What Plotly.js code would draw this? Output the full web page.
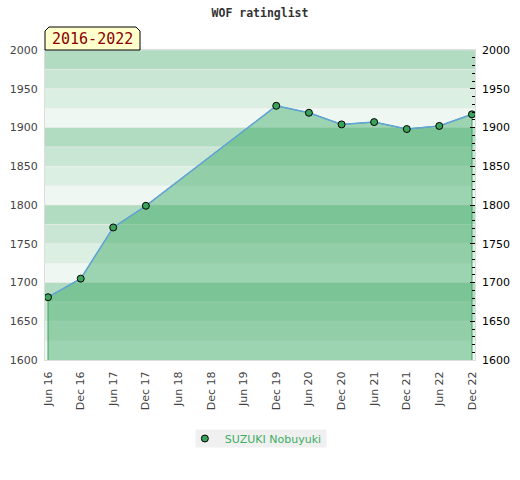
<!DOCTYPE html>
<html>
<head>
<meta charset="utf-8">
<script src="https://cdn.plot.ly/plotly-3.0.1.min.js"></script>
<style>html,body{margin:0;padding:0;background:#fff;}#chart{width:520px;height:480px;}</style>
</head>
<body>
<div id="chart"></div>
<script>
// ---- data ----
var dates = ["2016-06-01","2016-12-01","2017-06-01","2017-12-01","2019-12-01","2020-06-01","2020-12-01","2021-06-01","2021-12-01","2022-06-01","2022-12-01"];
var ratings = [1681, 1705, 1771, 1799, 1928, 1919, 1904, 1907, 1898, 1902, 1917];
var tickDates = ["2016-06-01","2016-12-01","2017-06-01","2017-12-01","2018-06-01","2018-12-01","2019-06-01","2019-12-01","2020-06-01","2020-12-01","2021-06-01","2021-12-01","2022-06-01","2022-12-01"];
var tickLabels = ["Jun 16","Dec 16","Jun 17","Dec 17","Jun 18","Dec 18","Jun 19","Dec 19","Jun 20","Dec 20","Jun 21","Dec 21","Jun 22","Dec 22"];
var playerName = "SUZUKI Nobuyuki";
var chartTitle = "WOF ratinglist";
var periodLabel = "2016-2022";
var yMin = 1600, yMax = 2000;

// ---- styling ----
var bandColors = ["#b2dcc2", "#c8e6d3", "#dcefe3", "#eff7f2"]; // top -> bottom in each 100 block
var shapes = [];
for (var bandTop = yMax, k = 0; bandTop > yMin; bandTop -= 25, k++) {
  shapes.push({type:'rect', xref:'paper', yref:'y', x0:0, x1:1, y0:bandTop-25, y1:bandTop,
    fillcolor: bandColors[k % 4], line:{width:0}, layer:'below'});
  // faint separator line
  shapes.push({type:'line', xref:'paper', yref:'y', x0:0, x1:1, y0:bandTop, y1:bandTop,
    line:{color:'rgba(235,235,235,0.6)', width:1}, layer:'below'});
}
// label box with chamfered top corners
var bx1 = 95/430, by0 = 1.0, by1 = 333/310, cx = 4/430, cy = 4/310;
shapes.push({type:'path', xref:'paper', yref:'paper',
  path: 'M 0,'+by0+' L 0,'+(by1-cy)+' L '+cx+','+by1+' L '+(bx1-cx)+','+by1+' L '+bx1+','+(by1-cy)+' L '+bx1+','+by0+' Z',
  fillcolor:'#ffffcc', line:{color:'#000', width:1}, layer:'above'});
// legend background box
shapes.push({type:'rect', xref:'paper', yref:'paper', x0:151/430, x1:281/430, y0:-87/310, y1:-70/310,
  fillcolor:'#f0f0f0', line:{color:'#f0f0f0', width:1}, layer:'below'});

var polyX = [dates[0]].concat(dates, [dates[dates.length-1]]);
var polyY = [yMin].concat(ratings, [yMin]);

var traces = [
  {x: polyX, y: polyY, type:'scatter', mode:'lines', fill:'toself',
   fillcolor:'rgba(58,168,98,0.46)', line:{color:'#3aa35a', width:1},
   showlegend:false, hoverinfo:'skip'},
  {x: dates, y: ratings, type:'scatter', mode:'lines',
   line:{color:'#62a3d9', width:1.5}, showlegend:false},
  {x: dates, y: ratings, type:'scatter', mode:'markers', yaxis:'y2', name: playerName,
   marker:{color:'#3aa35a', size:7, line:{color:'#000', width:1}}}
];

var layout = {
  width:520, height:480,
  margin:{l:45, r:45, t:50, b:120},
  paper_bgcolor:'#fff', plot_bgcolor:'rgba(0,0,0,0)',
  font:{family:'DejaVu Sans', size:11, color:'#444'},
  title:{text: chartTitle, x:0.5, xanchor:'center', y:0.973, yanchor:'middle',
    font:{family:'DejaVu Sans Mono', size:11.5, weight:'bold', color:'#333'}},
  xaxis:{type:'date', range:['2016-05-15','2022-12-18'],
    tickmode:'array', tickvals: tickDates, ticktext: tickLabels, tickangle:-90,
    showgrid:false, zeroline:false, showline:true, linecolor:'#dddddd', linewidth:1, mirror:true,
    ticks:'', ticklabelstandoff:6, tickfont:{family:'DejaVu Sans', size:11, color:'#444'}},
  yaxis:{range:[yMin, yMax], dtick:50, tick0:1600, showgrid:false,
    zeroline:false, showline:true, linecolor:'#dddddd', linewidth:1, mirror:true, ticks:'',
    ticklabelstandoff:4, tickfont:{family:'DejaVu Sans', size:11, color:'#444'}},
  yaxis2:{range:[yMin, yMax], overlaying:'y', side:'right', dtick:50, tick0:1600,
    showgrid:false, zeroline:false, showline:false,
    ticks:'inside', ticklen:5, tickwidth:1, tickcolor:'#000',
    minor:{dtick:10, ticks:'inside', ticklen:3, tickwidth:1, tickcolor:'#000'},
    ticklabelstandoff:6, tickfont:{family:'DejaVu Sans', size:11, color:'#000'}},
  legend:{orientation:'h', x:0.502 - 5/430, xanchor:'center', y:-78.5/310, yanchor:'middle',
    bgcolor:'rgba(0,0,0,0)', itemwidth:30, font:{family:'DejaVu Sans', size:11, color:'#3cae64'}},
  shapes: shapes,
  annotations:[{text: periodLabel, xref:'paper', yref:'paper', x:bx1/2, y:(by0+by1)/2,
    xanchor:'center', yanchor:'middle', showarrow:false,
    font:{family:'DejaVu Sans Mono', size:15, color:'#8b0000'}}]
};

Plotly.newPlot('chart', traces, layout, {displayModeBar:false, staticPlot:true});
</script>
</body>
</html>
